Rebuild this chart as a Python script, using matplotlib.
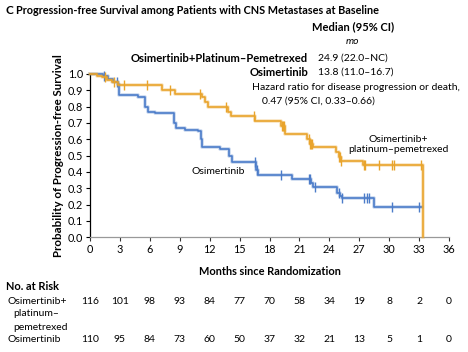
import numpy as np
import matplotlib
matplotlib.use('Agg')
import matplotlib.pyplot as plt
from matplotlib.transforms import blended_transform_factory

plt.rcParams['font.family'] = ['Lato', 'DejaVu Sans']

ORANGE = '#E9A42C'
BLUE = '#4C7CC9'

# Kaplan-Meier step curves (time in months, survival after the step)
combo_t = [0, 0.7, 1.2, 1.7, 2.2, 2.8, 7.2, 8.5, 11.2, 11.5, 11.8, 13.8, 14.1,
           16.5, 19.2, 19.6, 21.8, 22.1, 22.4, 24.7, 25.0, 25.2, 27.4, 33.4]
combo_s = [1.0, 0.99, 0.98, 0.965, 0.95, 0.93, 0.90, 0.875, 0.86, 0.83, 0.80, 0.77, 0.745,
           0.71, 0.68, 0.635, 0.60, 0.57, 0.55, 0.52, 0.49, 0.467, 0.443, 0.0]
combo_cens = [1.5, 2.4, 3.4, 5.7, 8.0, 11.0, 13.6, 16.4, 19.3, 19.4, 19.5, 22.0, 22.1, 22.2,
              22.3, 25.0, 25.1, 25.2, 27.5, 27.6, 29.0, 30.3, 30.5, 33.2]

osi_t = [0, 1.3, 1.8, 2.3, 2.8, 2.9, 4.8, 5.5, 5.8, 6.5, 8.4, 8.6, 9.5, 10.8, 11.1, 11.2,
         13.0, 13.9, 14.2, 16.6, 16.8, 20.3, 22.2, 22.4, 24.8, 25.1, 25.3, 28.5]
osi_s = [1.0, 0.99, 0.97, 0.95, 0.94, 0.87, 0.86, 0.80, 0.77, 0.76, 0.70, 0.67, 0.66, 0.65,
         0.60, 0.55, 0.54, 0.50, 0.46, 0.41, 0.38, 0.36, 0.33, 0.31, 0.27, 0.25, 0.24, 0.185]
osi_cens = [1.4, 2.7, 16.5, 16.7, 19.2, 22.0, 22.1, 22.6, 25.0, 25.3, 27.5, 27.8, 28.0,
            30.3, 33.0]
osi_end = 33.3

risk_times = [0, 3, 6, 9, 12, 15, 18, 21, 24, 27, 30, 33, 36]
risk_combo = [116, 101, 98, 93, 84, 77, 70, 58, 34, 19, 8, 2, 0]
risk_osi = [110, 95, 84, 73, 60, 50, 37, 32, 21, 13, 5, 1, 0]

W, H = 468, 352


def px(x, y):
    return x / W, 1 - y / H


def step_value(times, surv, t):
    idx = np.searchsorted(times, t, side='right') - 1
    return surv[idx]


fig = plt.figure(figsize=(W / 100, H / 100), dpi=100)
ax = fig.add_axes([90 / W, 1 - 237.3 / H, 359 / W, 163.3 / H])

# curves, with a soft halo like the printed figure
for t, s, c, z in [(osi_t + [osi_end], osi_s + [osi_s[-1]], BLUE, 3),
                   (combo_t, combo_s, ORANGE, 4)]:
    ax.step(t, s, where='post', color=c, lw=2.6, alpha=0.3, clip_on=False, zorder=z)
    ax.step(t, s, where='post', color=c, lw=1.2, clip_on=False, zorder=z)

ax.plot(osi_cens, [step_value(osi_t, osi_s, t) for t in osi_cens], '|', color=BLUE,
        ms=7, mew=1.0, clip_on=False, zorder=3)
ax.plot(combo_cens, [step_value(combo_t, combo_s, t) for t in combo_cens], '|',
        color=ORANGE, ms=7, mew=1.0, clip_on=False, zorder=4)

ax.set_xlim(0, 36)
ax.set_ylim(0, 1.0)
ax.set_xticks(risk_times)
ax.set_yticks(np.arange(0, 1.01, 0.1))
ax.set_yticklabels(['%.1f' % v for v in np.arange(0, 1.01, 0.1)])
ax.tick_params(labelsize=7.8, length=3, width=0.8, pad=2)
ax.tick_params(axis='x', colors='#333333', labelcolor='black')
for s in ['top', 'right']:
    ax.spines[s].set_visible(False)
ax.spines['left'].set_linewidth(0.9)
ax.spines['bottom'].set_color('#999999')
ax.spines['bottom'].set_linewidth(0.9)

ax.set_ylabel('Probability of Progression-free Survival', fontsize=8.3,
              fontweight='bold', labelpad=3)
ax.set_xlabel('Months since Randomization', fontsize=7.9, fontweight='bold', labelpad=8)

# in-plot labels
ax.text(30.9, 0.568, 'Osimertinib+\nplatinum\u2013pemetrexed',
        fontsize=7.5, ha='center', va='center', linespacing=1.1)
ax.text(10.2, 0.40, 'Osimertinib', fontsize=7.5, ha='left', va='center')

# title and summary block
fig.text(*px(5, 10), 'C', fontsize=8.5, fontweight='bold', va='center')
fig.text(*px(16, 10), 'Progression-free Survival among Patients with CNS Metastases at Baseline',
         fontsize=7.8, fontweight='bold', va='center')
fig.text(*px(353, 27), 'Median (95% CI)', fontsize=8, fontweight='bold', ha='center', va='center')
fig.text(*px(352, 42), 'mo', fontsize=7.5, style='italic', ha='center', va='center')
fig.text(*px(308, 58), 'Osimertinib+Platinum\u2013Pemetrexed', fontsize=8.1,
         fontweight='bold', ha='right', va='center')
fig.text(*px(318, 58), '24.9 (22.0\u2013NC)', fontsize=7.5, ha='left', va='center')
fig.text(*px(308, 72), 'Osimertinib', fontsize=8.1, fontweight='bold', ha='right', va='center')
fig.text(*px(318, 72), '13.8 (11.0\u201316.7)', fontsize=7.5, ha='left', va='center')
fig.text(*px(252, 88), 'Hazard ratio for disease progression or death,', fontsize=7.5,
         ha='left', va='center')
fig.text(*px(262, 101), '0.47 (95% CI, 0.33\u20130.66)', fontsize=7.5, ha='left', va='center')

# number at risk table
tr = blended_transform_factory(ax.transData, fig.transFigure)
fig.text(*px(6, 287), 'No. at Risk', fontsize=7.9, fontweight='bold', va='center')
fig.text(*px(7, 302), 'Osimertinib+', fontsize=7.5, va='center')
fig.text(*px(13, 314), 'platinum\u2013', fontsize=7.5, va='center')
fig.text(*px(13, 327), 'pemetrexed', fontsize=7.5, va='center')
fig.text(*px(7, 339), 'Osimertinib', fontsize=7.5, va='center')
for t, a, b in zip(risk_times, risk_combo, risk_osi):
    ax.text(t, 1 - 302 / H, str(a), transform=tr, fontsize=7.5, ha='center', va='center')
    ax.text(t, 1 - 339 / H, str(b), transform=tr, fontsize=7.5, ha='center', va='center')

fig.savefig('out.png', dpi=100)
